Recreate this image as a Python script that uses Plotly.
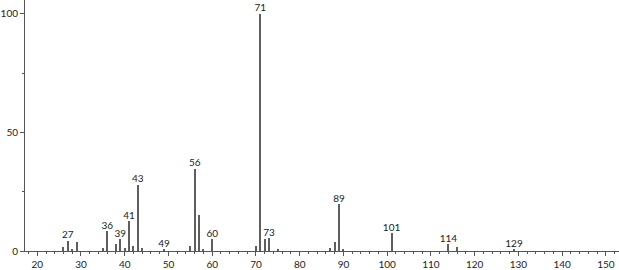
import plotly.graph_objects as go

mz = [26, 27, 28, 29, 35, 36, 38, 39, 40, 41, 42, 43, 44, 49, 55, 56, 57, 58,
      60, 70, 71, 72, 73, 75, 87, 88, 89, 90, 101, 114, 116, 129]
intensity = [1.7, 4.3, 1.0, 3.9, 1.4, 8.3, 2.8, 5.0, 1.1, 12.6, 2.2, 28.0, 1.4, 0.8,
             2.2, 34.7, 15.3, 1.0, 5.0, 1.9, 100.0, 5.1, 5.3, 0.5, 1.1, 3.9, 19.7,
             1.0, 7.5, 2.8, 1.7, 0.5]
labeled = [27, 36, 39, 41, 43, 49, 56, 60, 71, 73, 89, 101, 114, 129]

x_ticks = list(range(20, 151, 10))
y_ticks = [0, 50, 100]

lab_y = [intensity[mz.index(m)] for m in labeled]

fig = go.Figure()
fig.add_trace(go.Bar(x=mz, y=intensity, width=0.24, marker=dict(color="#5e5e5e", line=dict(width=0)),
                     hoverinfo="x+y"))
fig.add_trace(go.Scatter(x=labeled, y=lab_y, mode="text", text=[str(m) for m in labeled],
                         textposition="top center",
                         textfont=dict(family="Lato", size=10, color="#222222"),
                         hoverinfo="skip"))

fig.update_layout(
    width=619, height=270,
    margin=dict(l=25, r=0, t=0, b=16),
    paper_bgcolor="white", plot_bgcolor="white",
    showlegend=False, bargap=0,
    font=dict(family="Lato", size=10, color="#222222"),
)
fig.update_xaxes(
    range=[17.2, 153.0], tickvals=x_ticks, ticktext=[str(v) for v in x_ticks],
    showgrid=False, zeroline=False, showline=True, linecolor="#555555", linewidth=1,
    ticks="outside", ticklen=4, tickcolor="#555555", tickwidth=1,
    minor=dict(dtick=2, tick0=0, ticks="outside", ticklen=2, tickcolor="#555555", showgrid=False),
    tickfont=dict(size=10), ticklabelstandoff=0,
)
fig.update_yaxes(
    range=[0, 105.8], tickvals=y_ticks, ticktext=[str(v) for v in y_ticks],
    showgrid=False, zeroline=False, showline=True, linecolor="#555555", linewidth=1,
    ticks="outside", ticklen=4, tickcolor="#555555", tickwidth=1,
    minor=dict(tickvals=[25, 75], ticks="outside", ticklen=2, tickcolor="#555555", showgrid=False),
    tickfont=dict(size=10), ticklabelstandoff=0,
)

fig.write_html("out.html")
